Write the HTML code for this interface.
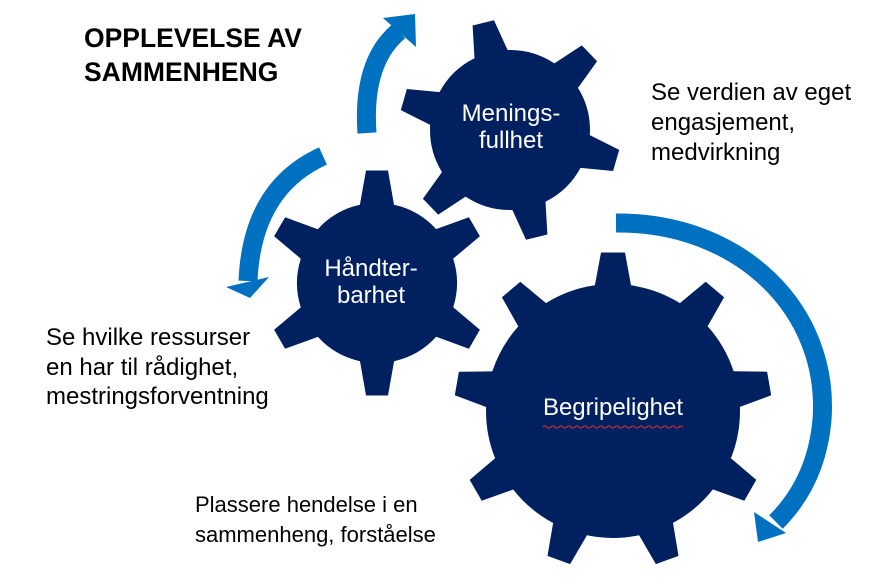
<!DOCTYPE html>
<html><head><meta charset="utf-8"><style>
html,body{margin:0;padding:0;background:#fff;}
svg{display:block;}
text{font-family:"Liberation Sans",Arial,sans-serif;}
</style></head><body>
<svg id="s" width="884" height="584" viewBox="0 0 884 584" xmlns="http://www.w3.org/2000/svg">
<g id="gears" fill="#002060"></g>
<g fill="none" stroke="#0070C0" stroke-width="19">
<path d="M367,133 Q362,62 399,31"/>
<path d="M323,156 Q252,188 248,281"/>
<path d="M616,223 C740,222 830,310 822,420 C818,465 800,498 776,522"/>
</g>
<g fill="#0070C0">
<polygon points="383,18 415,14 416,47"/>
<polygon points="226,287 269,277 250,298"/>
<polygon points="754,512 758,542 786,533"/>
</g>
<g font-size="26.5" font-weight="bold" fill="#000">
<text x="84" y="47">OPPLEVELSE AV</text>
<text x="84" y="81">SAMMENHENG</text>
</g>
<g font-size="24" fill="#000">
<text x="651" y="100">Se verdien av eget</text>
<text x="651" y="130">engasjement,</text>
<text x="651" y="160">medvirkning</text>
<text x="46" y="345">Se hvilke ressurser</text>
<text x="46" y="375">en har til rådighet,</text>
<text x="46" y="404">mestringsforventning</text>
</g>
<g font-size="22" fill="#000">
<text x="195" y="512">Plassere hendelse i en</text>
<text x="195" y="542">sammenheng, forståelse</text>
</g>
<g font-size="24" fill="#fff" text-anchor="middle">
<text x="511" y="121">Menings-</text>
<text x="511" y="148">fullhet</text>
<text x="371" y="276">Håndter-</text>
<text x="371" y="303">barhet</text>
<text x="613" y="415">Begripelighet</text>
</g>
<path d="M543,427 q2,-2 4,0 t4,0 t4,0 t4,0 t4,0 t4,0 t4,0 t4,0 t4,0 t4,0 t4,0 t4,0 t4,0 t4,0 t4,0 t4,0 t4,0 t4,0 t4,0 t4,0 t4,0 t4,0 t4,0 t4,0 t4,0 t4,0 t4,0 t4,0 t4,0 t4,0 t4,0 t4,0 t4,0 t4,0 t4,0" fill="none" stroke="#e03030" stroke-width="1"/>
</svg>
<script>
function gear(cx,cy,r,R,n,start,bw,tw){
  var pts=[];var step=2*Math.PI/n;
  for(var i=0;i<n;i++){
    var a=start*Math.PI/180+i*step;
    var hb=Math.asin(bw/2/r), ht=Math.asin(tw/2/R);
    var p=[[r,a-hb-0.001],[R,a-ht],[R,a+ht],[r,a+hb]];
    p.forEach(function(q){pts.push((cx+q[0]*Math.cos(q[1])).toFixed(1)+','+(cy+q[0]*Math.sin(q[1])).toFixed(1));});
  }
  var d='M'+pts[0];
  for(var i=0;i<n;i++){
    d+=' L'+pts[i*4+1]+' L'+pts[i*4+2]+' L'+pts[i*4+3];
    var nx=pts[((i+1)%n)*4];
    d+=' A'+r+','+r+' 0 0 1 '+nx;
  }
  return d+'Z';
}
var g=document.getElementById('gears');
[[510,130,80,111,6,-104,34,22],[377,283,80,113,6,-90,34,22],[613,411,127,159,9,-90,36,24]].forEach(function(a){
  var p=document.createElementNS('http://www.w3.org/2000/svg','path');
  p.setAttribute('d',gear.apply(null,a));g.appendChild(p);
});
</script>
</body></html>
